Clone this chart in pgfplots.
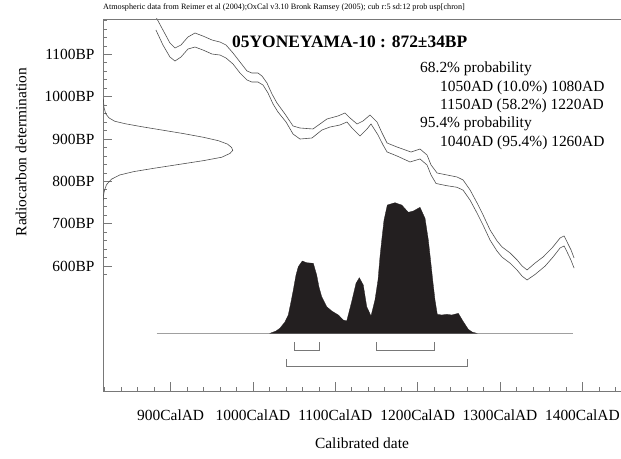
\documentclass[border=0pt]{standalone}
\usepackage{fontspec}
\setmainfont{Liberation Serif}
\newfontfamily\tms{Liberation Serif}
\usepackage{pgfplots}
\pgfplotsset{compat=1.18}
\definecolor{axgray}{RGB}{120,120,120}
\definecolor{curvegray}{RGB}{80,80,80}
\definecolor{distfill}{RGB}{35,31,32}
\begin{document}
\begin{tikzpicture}
\useasboundingbox (0bp,0bp) rectangle (621bp,459bp);
\begin{axis}[
  at={(103bp,68bp)}, anchor=south west, scale only axis,
  width=518bp, height=372bp,
  xmin=817.8, xmax=1446.9, ymin=305, ymax=1183.4,
  axis x line*=bottom, axis y line*=left,
  axis line style={axgray, line width=0.8pt, -},
  tick align=inside,
  major tick length=9bp, minor tick length=4bp,
  every tick/.style={axgray, line width=0.7pt},
  xtick={900,1000,1100,1200,1300,1400},
  xticklabels={900CalAD,1000CalAD,1100CalAD,1200CalAD,1300CalAD,1400CalAD},
  minor xtick={820,840,...,1440},
  ytick={600,700,800,900,1000,1100},
  yticklabels={600BP,700BP,800BP,900BP,1000BP,1100BP},
  minor ytick={580,600,...,1180},
  tick label style={font=\tms\fontsize{15.5}{18}\selectfont},
  xticklabel style={yshift=-15bp},
  yticklabel style={xshift=-5bp},
]
% radiocarbon determination (left)
\addplot[curvegray, line width=0.6pt] coordinates {
 (818.2,995) (819,975) (821,960) (825,950) (832,942) (845,936) (865,929)
 (890,921) (915,913) (940,904) (958,896) (969,888) (974,880) (975.3,873)
 (972,866) (962,857) (940,849) (910,840) (880,831) (855,823) (838,815)
 (828,805) (822,792) (819.5,778) (818.3,765) (818,755)
};
% calibration curve upper
\addplot[curvegray, line width=0.6pt] coordinates {
 (882.1,1188.1) (890.6,1157.4) (899.1,1126.7) (905.2,1114.9) (912.5,1122.0)
 (921.0,1140.9) (929.5,1150.3) (939.2,1143.2) (950.2,1133.8) (959.9,1129.0)
 (967.2,1122.0) (975.7,1103.1) (984.2,1081.8) (992.7,1060.6) (998.7,1055.8)
 (1006.0,1055.8) (1010.9,1048.8) (1017.0,1032.2) (1023.0,1006.3) (1029.1,985.0)
 (1038.8,959.1) (1048.6,930.8) (1057.0,926.0) (1072.8,923.7) (1081.3,935.5)
 (1089.8,947.3) (1103.2,954.4) (1111.7,961.5) (1117.8,949.7) (1126.3,935.5)
 (1133.6,942.6) (1142.1,956.7) (1150.6,940.2) (1156.7,914.2) (1162.8,890.6)
 (1174.9,881.1) (1191.9,869.3) (1202.8,876.4) (1211.3,862.3) (1216.2,838.7)
 (1223.5,819.8) (1235.6,815.1) (1247.8,810.3) (1255.1,803.3) (1263.6,779.7)
 (1272.1,749.0) (1279.4,720.6) (1287.9,685.2) (1296.4,659.2) (1302.5,645.0)
 (1312.2,630.9) (1320.7,614.4) (1326.8,600.2) (1332.8,590.8) (1342.6,607.3)
 (1352.3,621.5) (1363.2,642.7) (1372.9,666.3) (1377.8,671.1) (1381.4,656.9)
 (1386.2,638.0) (1389.9,619.1)
};
% calibration curve lower
\addplot[curvegray, line width=0.6pt] coordinates {
 (882.1,1157.4) (890.6,1122.0) (899.1,1093.6) (905.2,1084.2) (912.5,1093.6)
 (921.0,1112.5) (929.5,1117.2) (939.2,1110.2) (950.2,1100.7) (959.9,1098.3)
 (967.2,1091.3) (975.7,1077.1) (984.2,1055.8) (992.7,1039.3) (998.7,1034.6)
 (1006.0,1034.6) (1012.1,1027.5) (1018.2,1008.6) (1024.3,982.7) (1030.3,963.8)
 (1040.1,940.2) (1048.6,911.8) (1057.0,900.0) (1071.6,902.4) (1083.7,921.3)
 (1093.5,928.3) (1105.6,933.1) (1114.1,940.2) (1120.2,926.0) (1129.9,907.1)
 (1138.4,923.7) (1143.3,935.5) (1151.8,909.5) (1157.9,885.9) (1162.8,869.4)
 (1174.9,859.9) (1190.7,845.8) (1202.8,852.9) (1211.3,838.7) (1216.2,815.1)
 (1222.3,795.0) (1234.4,790.1) (1247.8,786.0) (1255.1,779.3) (1263.6,755.7)
 (1272.1,725.0) (1279.4,696.6) (1287.9,661.2) (1296.4,635.2) (1302.5,621.0)
 (1312.2,606.9) (1320.7,590.4) (1326.8,576.2) (1332.8,567.2) (1342.6,580.3)
 (1354.7,599.9) (1364.4,621.5) (1372.9,642.7) (1377.8,647.4) (1381.4,633.3)
 (1386.2,613.7) (1389.9,595.2)
};
% baseline of calibrated distribution
\addplot[axgray!70, line width=0.9pt] coordinates {(883,441.2) (1388.6,441.2)};
% calibrated distribution
\addplot[fill=distfill, draw=distfill, line width=0.3pt] coordinates {
 (1020.6,441.2) (1027.9,446.6) (1032.6,453.0) (1038.7,467.9) (1042.8,484.4)
 (1046.1,515.1) (1048.9,543.4) (1052.2,578.8) (1055.0,598.5) (1059.8,611.9)
 (1065.2,607.9) (1073.2,606.5) (1077.3,578.9) (1080.1,550.5) (1083.4,527.6)
 (1089.5,504.0) (1095.6,493.9) (1103.6,484.4) (1109.6,472.6) (1113.8,470.2)
 (1116.6,491.5) (1119.8,515.8) (1125.1,559.3) (1129.1,572.5) (1133.9,555.2)
 (1138.1,504.0) (1143.3,482.0) (1148.1,519.8) (1151.8,567.0) (1154.2,622.1)
 (1156.6,666.2) (1159.1,708.7) (1163.1,744.1) (1172.4,749.6) (1180.6,744.1)
 (1188.6,726.9) (1194.7,730.0) (1202.8,738.7) (1208.9,712.7) (1212.9,661.5)
 (1215.6,614.3) (1218.2,567.0) (1221.0,519.8) (1223.8,486.1) (1229.2,484.4)
 (1235.2,486.1) (1241.3,484.4) (1249.3,488.4) (1255.4,468.6) (1261.5,450.6)
 (1266.0,444.3) (1271.7,441.2)
} --cycle;
% 68.2% ranges
\addplot[axgray, line width=0.8pt] coordinates {(1050,420) (1050,402) (1080,402) (1080,420)};
\addplot[axgray, line width=0.8pt] coordinates {(1150,420) (1150,402) (1220,402) (1220,420)};
% 95.4% range
\addplot[axgray, line width=0.8pt] coordinates {(1040,380.5) (1040,364) (1260,364) (1260,380.5)};
\end{axis}
% top frame line
\draw[axgray, line width=0.8pt] (103bp,440bp) -- (621bp,440bp);
% header
\node[anchor=base west, inner sep=0pt, font=\tms\fontsize{8.2}{10}\selectfont] at (103bp,449bp)
  {Atmospheric data from Reimer et al (2004);OxCal v3.10 Bronk Ramsey (2005); cub r:5 sd:12 prob usp[chron]};
% title
\node[anchor=base west, inner sep=0pt, font=\tms\fontsize{17.5}{20}\selectfont\bfseries] at (232bp,411bp)
  {05YONEYAMA-10 : 872±34BP};
% probability text
\begin{scope}[every node/.style={anchor=base west, inner sep=0pt, font=\tms\fontsize{15.5}{18}\selectfont}]
\node at (420bp,386.5bp) {68.2\% probability};
\node at (440bp,367.5bp) {1050AD (10.0\%) 1080AD};
\node at (440bp,349.5bp) {1150AD (58.2\%) 1220AD};
\node at (420bp,331.5bp) {95.4\% probability};
\node at (440bp,312.5bp) {1040AD (95.4\%) 1260AD};
\end{scope}
% axis titles
\node[rotate=90, font=\tms\fontsize{15.5}{18}\selectfont] at (21bp,307bp) {Radiocarbon determination};
\node[font=\tms\fontsize{15.5}{18}\selectfont] at (362bp,16bp) {Calibrated date};
\end{tikzpicture}
\end{document}
